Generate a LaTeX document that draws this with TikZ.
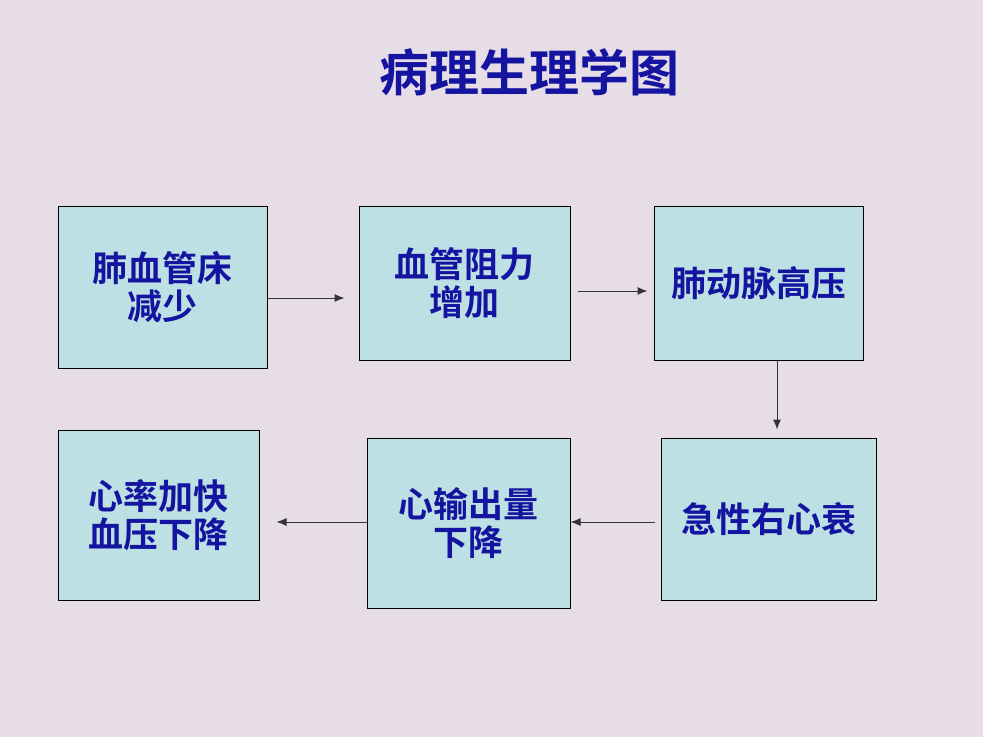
\documentclass[tikz,border=0pt]{standalone}
\usepackage{fontspec}
\newfontfamily\cjk{Noto Sans CJK SC}[BoldFont={Noto Sans CJK SC Bold}]
\usetikzlibrary{arrows.meta}
\definecolor{bgc}{HTML}{E7DDE7}
\definecolor{boxc}{HTML}{BCE0E3}
\definecolor{txtc}{HTML}{1414A0}
\definecolor{arrc}{HTML}{333333}
\tikzset{
  stepbox/.style={draw=black, line width=1pt, fill=boxc, text=txtc, align=center,
    font=\cjk\bfseries\fontsize{35}{38}\selectfont, inner sep=0pt},
  arr/.style={draw=arrc, line width=1pt, -{Latex[length=10pt,width=8pt]}}
}
\begin{document}
\begin{tikzpicture}[x=1pt,y=-1pt]
\fill[bgc] (0,0) rectangle (983,737);
\useasboundingbox (0,0) rectangle (983,737);
\node[text=txtc, font=\cjk\bfseries\fontsize{50}{54}\selectfont] (title) at (529,72) {病理生理学图};
\node[stepbox, minimum width=209pt, minimum height=162pt] (b1) at (162.5,287) {肺血管床\\减少};
\node[stepbox, minimum width=211pt, minimum height=154pt] (b2) at (464.5,283) {血管阻力\\增加};
\node[stepbox, minimum width=209pt, minimum height=154pt] (b3) at (758.5,283) {肺动脉高压};
\node[stepbox, minimum width=215pt, minimum height=162pt] (b4) at (768.5,519) {急性右心衰};
\node[stepbox, minimum width=203pt, minimum height=170pt] (b5) at (468.5,523) {心输出量\\下降};
\node[stepbox, minimum width=201pt, minimum height=170pt] (b6) at (158.5,515) {心率加快\\血压下降};
\draw[arr, shorten >=14pt] (b1.east |- 0,298) -- (b2.west |- 0,298);
\draw[arr, shorten <=7pt, shorten >=6pt] (b2.east |- 0,291) -- (b3.west |- 0,291);
\draw[arr, shorten >=8pt] (b3.south -| 777,0) -- (b4.north -| 777,0);
\draw[arr, shorten <=6pt] (b4.west |- 0,522) -- (b5.east |- 0,522);
\draw[arr, shorten >=17pt] (b5.west |- 0,522) -- (b6.east |- 0,522);
\end{tikzpicture}
\end{document}
